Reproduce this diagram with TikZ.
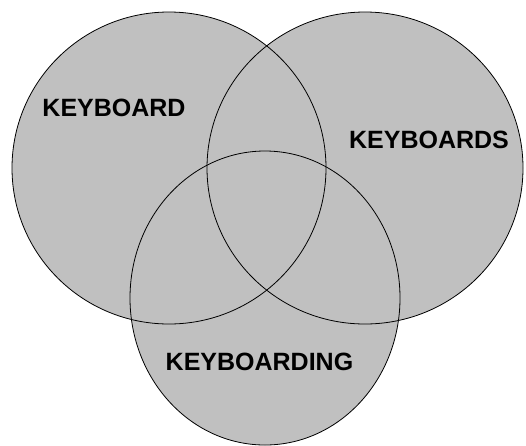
\documentclass[tikz,border=0pt]{standalone}
\usepackage{fontspec}
\setmainfont{Liberation Sans}
\usepackage{tikz}
\definecolor{setgray}{RGB}{192,192,192}

\begin{document}
\begin{tikzpicture}[x=1pt,y=-1pt,
  setfill/.style={fill=setgray},
  setline/.style={draw=black,line width=0.8pt},
  lbl/.style={font=\fontsize{25}{30}\selectfont\bfseries,inner sep=0pt}]
\useasboundingbox (0,0) rectangle (526,445);
% the three sets: fill first, then outlines
\foreach \pass/\sty in {1/setfill,2/setline}{
  \path[\sty] (169,168) ellipse [x radius=157,y radius=156];
  \path[\sty] (365,168) ellipse [x radius=158,y radius=156];
  \path[\sty] (265,298) ellipse [x radius=135,y radius=147];
}
\node[lbl] (keyboard) at (114,108) {KEYBOARD};
\node[lbl] (keyboards) at (429,140) {KEYBOARDS};
\node[lbl] (keyboarding) at (259.5,362) {KEYBOARDING};
\end{tikzpicture}
\end{document}
